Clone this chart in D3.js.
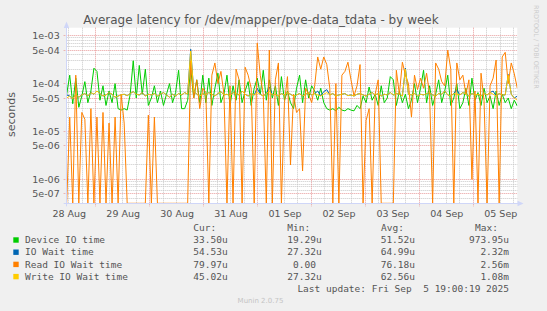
<!DOCTYPE html>
<html>
<head>
<meta charset="utf-8">
<script src="https://cdnjs.cloudflare.com/ajax/libs/d3/7.8.5/d3.min.js"></script>
<style>
body { margin: 0; background: #f0f0f0; }
svg { display: block; }
</style>
</head>
<body>
<script>
var seriesNames  = ["Device IO time", "IO Wait time", "Read IO Wait time", "Write IO Wait time"];
var seriesColors = ["#00cc00", "#0066b3", "#ff8000", "#ffcc00"];

// values in microseconds, one sample per ~80 minutes, 28 Aug 11:05 onward
var deviceIO = [60, 150, 38, 130, 32, 55, 110, 40, 70, 210,
  180, 45, 90, 35, 70, 40, 100, 30, 28, 30, 28, 60, 300, 50, 240, 60, 200, 35,
  50, 90, 40, 70, 35, 60, 100, 40, 65, 190, 30, 30, 45, 210, 50, 120, 40, 150,
  40, 130, 35, 80, 165, 40, 60, 150, 35, 90, 45, 120, 40, 70, 110, 35, 80, 130,
  60, 190, 45, 120, 50, 90, 35, 140, 45, 70, 40, 30, 80, 150, 40, 120, 50, 90,
  70, 45, 80, 40, 30, 28, 30, 27, 32, 28, 27, 30, 28, 27, 35, 30, 55, 40,
  85, 45, 60, 35, 90, 40, 50, 140, 120, 35, 70, 40, 60, 30, 45, 100, 40, 80,
  190, 40, 90, 35, 60, 120, 40, 70, 150, 35, 50, 100, 30, 40, 80, 35, 130, 45,
  65, 35, 80, 40, 55, 30, 70, 35, 60, 40, 50, 30, 45, 34];

var ioWait = [58, 55, 48, 60, 52, 58, 62, 55, 65, 60,
  70, 62, 55, 58, 65, 60, 52, 55, 58, 60, 56, 62, 68, 60, 58, 65, 55, 60,
  58, 62, 55, 60, 65, 58, 52, 60, 55, 62, 58, 65, 60, 520, 70, 60, 55, 62,
  58, 65, 60, 55, 62, 68, 58, 60, 55, 65, 62, 58, 70, 60, 55, 62, 58, 80,
  60, 55, 62, 85, 58, 60, 55, 62, 58, 65, 60, 55, 58, 62, 55, 60, 65, 58,
  62, 70, 55, 68, 75, 58, 62, 55, 58, 60, 62, 56, 58, 55, 60, 62, 58, 55,
  60, 65, 58, 62, 55, 60, 58, 65, 58, 62, 60, 55, 210, 60, 58, 62, 55, 60,
  58, 62, 65, 58, 55, 62, 60, 70, 58, 55, 62, 75, 58, 65, 60, 55, 62, 58,
  60, 55, 62, 58, 65, 70, 55, 62, 58, 58, 155, 60, 50, 55];

var readWait = [0, 20, 0, 150, 0, 25, 18, 0, 30, 0,
  20, 0, 25, 0, 15, 0, 20, 0, 60, 15, 0, 0, 0, 0, 0, 0, 0, 22,
  0, 20, 0, 0, 0, 0, 0, 0, 0, 0, 0, 0, 0, 300, 50, 120, 30, 80,
  65, 0, 150, 270, 100, 180, 60, 0, 90, 0, 200, 120, 0, 220, 150, 80, 0, 700,
  150, 60, 0, 500, 0, 120, 270, 0, 40, 140, 2, 60, 25, 30, 1.5, 80, 60, 40,
  90, 360, 200, 360, 250, 80, 0, 100, 0, 150, 180, 280, 120, 55, 90, 250, 0, 17,
  30, 0, 60, 120, 0, 0, 0, 0, 0, 190, 60, 280, 150, 100, 20, 150, 75, 130,
  80, 165, 60, 0, 270, 200, 110, 90, 500, 200, 0, 270, 120, 150, 60, 120, 1, 70,
  0, 165, 45, 0, 90, 130, 310, 0, 360, 450, 100, 270, 160, 80];

var writeWait = [50, 55, 48, 60, 52, 58, 62, 55, 65, 60,
  70, 62, 55, 58, 65, 60, 52, 55, 58, 60, 56, 62, 68, 60, 58, 65, 55, 60,
  58, 62, 55, 60, 65, 58, 52, 60, 55, 62, 58, 65, 60, 480, 70, 60, 55, 62,
  58, 65, 60, 55, 62, 68, 58, 60, 55, 65, 62, 58, 70, 60, 55, 62, 58, 65,
  60, 55, 62, 70, 58, 60, 55, 62, 58, 65, 60, 55, 58, 62, 55, 60, 65, 58,
  62, 58, 55, 60, 65, 58, 62, 55, 58, 60, 62, 56, 58, 55, 60, 62, 58, 55,
  60, 65, 58, 62, 55, 60, 58, 65, 58, 62, 60, 55, 200, 60, 58, 62, 55, 60,
  58, 62, 65, 58, 55, 62, 60, 70, 58, 55, 62, 60, 58, 65, 60, 55, 62, 58,
  60, 55, 62, 58, 65, 60, 55, 62, 58, 58, 150, 60, 50, 45];

var curText = ["33.50u", "54.53u", "79.97u", "45.02u"];
var minText = ["19.29u", "27.32u", "0.00\u00a0", "27.32u"];
var avgText = ["51.52u", "64.99u", "76.18u", "62.56u"];
var maxText = ["973.95u", "2.32m", "2.56m", "1.08m"];
var yLabelValues = [1e-3, 5e-4, 1e-4, 5e-5, 1e-5, 5e-6, 1e-6, 5e-7];

var width  = 547;
var height = 311;
var plotLeft = 66.7, plotRight = 517.3, plotTop = 27.7, plotBottom = 203.3;
var font = "DejaVu Sans, sans-serif";
var mono = "DejaVu Sans Mono, monospace";
var textColor = "#555";

var svg = d3.select("body")
            .append("svg")
            .attr("width", width)
            .attr("height", height);

svg.append("rect").attr("width", width).attr("height", height).attr("fill", "#f0f0f0");

var startTime = new Date(2025, 7, 28, 11, 5);
var endTime   = new Date(2025, 8, 5, 19, 35);
var stepMs = 80.74 * 60000;

var x = d3.scaleTime().domain([startTime, endTime]).range([plotLeft, plotRight]);
var y = d3.scaleLog().domain([3.17e-7, 1.47e-3]).range([plotBottom, plotTop]);

svg.append("rect")
   .attr("x", plotLeft).attr("y", plotTop)
   .attr("width", plotRight - plotLeft).attr("height", plotBottom - plotTop)
   .attr("fill", "#ffffff");

function px(v) { return Math.floor(v) + 0.5; }
function isMajor(v) {
  var lead = Math.round(v / Math.pow(10, Math.floor(Math.log10(v) + 1e-9)));
  return lead === 1 || lead === 5;
}

var grid = svg.append("g").attr("stroke-width", 1).attr("stroke-dasharray", "1,1").attr("fill", "none");

// minor grid
d3.timeHour.every(6).range(startTime, endTime).forEach(function(t) {
  if (t.getHours() === 0) return;
  grid.append("line").attr("x1", px(x(t))).attr("x2", px(x(t)))
      .attr("y1", plotTop).attr("y2", plotBottom).attr("stroke", "#c8c8c8");
});
y.ticks().forEach(function(v) {
  if (isMajor(v)) return;
  grid.append("line").attr("x1", plotLeft).attr("x2", plotRight)
      .attr("y1", px(y(v))).attr("y2", px(y(v))).attr("stroke", "#c8c8c8");
});

// major grid
d3.timeDay.range(startTime, endTime).forEach(function(t) {
  grid.append("line").attr("x1", px(x(t))).attr("x2", px(x(t)))
      .attr("y1", plotTop).attr("y2", plotBottom + 3).attr("stroke", "#e89a9a");
});
y.ticks().filter(isMajor).forEach(function(v) {
  grid.append("line").attr("x1", plotLeft - 3).attr("x2", plotRight)
      .attr("y1", px(y(v))).attr("y2", px(y(v))).attr("stroke", "#e89a9a");
});

// lines
svg.append("clipPath").attr("id", "plot")
   .append("rect").attr("x", plotLeft).attr("y", plotTop - 1)
   .attr("width", plotRight - plotLeft).attr("height", plotBottom - plotTop + 1);

var line = d3.line()
  .x(function(d, i) { return x(new Date(startTime.getTime() + i * stepMs)); })
  .y(function(d) { return d > 0 ? Math.min(y(d * 1e-6), plotBottom) : plotBottom; });

[deviceIO, ioWait, readWait, writeWait].forEach(function(s, k) {
  svg.append("path")
     .attr("clip-path", "url(#plot)")
     .attr("d", line(s))
     .attr("fill", "none")
     .attr("stroke", seriesColors[k])
     .attr("stroke-width", 1);
});

// axis lines and arrows
svg.append("line").attr("x1", px(plotLeft)).attr("x2", px(plotLeft)).attr("y1", plotBottom + 3).attr("y2", 24)
   .attr("stroke", "#cfd6f8");
svg.append("line").attr("x1", plotLeft - 3).attr("x2", 519).attr("y1", px(plotBottom)).attr("y2", px(plotBottom))
   .attr("stroke", "#cfd6f8");
svg.append("path").attr("d", "M63.8,28 L69.2,28 L66.5,21.5 Z").attr("fill", "#cfd6f8");
svg.append("path").attr("d", "M517.5,200.8 L517.5,206.2 L523.5,203.5 Z").attr("fill", "#cfd6f8");

// tick labels
var yFmt = function(v) { return v.toExponential(0).replace(/e([+-])(\d)$/, "e$10$2"); };
var yAxis = svg.append("g")
  .attr("transform", "translate(" + plotLeft + ",0)")
  .call(d3.axisLeft(y).tickValues(yLabelValues).tickFormat(yFmt).tickSize(0).tickPadding(7));
yAxis.select(".domain").remove();
yAxis.selectAll("text").attr("font-family", font).attr("font-size", "9.5px").attr("fill", textColor);

var noons = d3.timeDay.range(d3.timeDay.floor(startTime), endTime).map(function(d) { return d3.timeHour.offset(d, 12); });
var xAxis = svg.append("g")
  .attr("transform", "translate(0," + plotBottom + ")")
  .call(d3.axisBottom(x).tickValues(noons).tickFormat(d3.timeFormat("%d %b")).tickSize(0).tickPadding(6.5));
xAxis.select(".domain").remove();
xAxis.selectAll("text").attr("font-family", font).attr("font-size", "9.5px").attr("fill", textColor);

// titles
svg.append("text")
   .attr("x", 261).attr("y", 24.3)
   .attr("text-anchor", "middle")
   .attr("font-family", font).attr("font-size", "12px").attr("fill", textColor)
   .text("Average latency for /dev/mapper/pve-data_tdata - by week");

svg.append("text")
   .attr("transform", "translate(15,114.5) rotate(-90)")
   .attr("text-anchor", "middle")
   .attr("font-family", font).attr("font-size", "11px").attr("fill", textColor)
   .text("seconds");

svg.append("text")
   .attr("transform", "translate(534,5) rotate(90)")
   .attr("font-family", font).attr("font-size", "6.5px").attr("fill", "#cccccc")
   .text("RRDTOOL / TOBI OETIKER");

// legend
var legend = svg.append("g").attr("font-family", mono).attr("font-size", "9.5px").attr("fill", textColor);

var heads = [["Cur:", 193.3], ["Min:", 287.3], ["Avg:", 381], ["Max:", 475]];
heads.forEach(function(h) {
  legend.append("text").attr("x", h[1]).attr("y", 231).text(h[0]);
});

var cols = [[curText, 227.7], [minText, 321.7], [avgText, 415], [maxText, 509]];
seriesNames.forEach(function(name, k) {
  var base = 243.2 + k * 12.2;
  legend.append("rect").attr("x", 13.3).attr("y", base - 5.9).attr("width", 5.4).attr("height", 5.4)
        .attr("fill", seriesColors[k]);
  legend.append("text").attr("x", 25).attr("y", base).text(name);
  cols.forEach(function(c) {
    legend.append("text").attr("x", c[1]).attr("y", base).attr("text-anchor", "end").text(c[0][k]);
  });
});

legend.append("text").attr("x", 509).attr("y", 292).attr("text-anchor", "end")
      .text("Last update: Fri Sep \u00a05 19:00:19 2025");

svg.append("text")
   .attr("x", 260.5).attr("y", 302.5).attr("text-anchor", "middle")
   .attr("font-family", font).attr("font-size", "7px").attr("fill", "#c4c4c4")
   .text("Munin 2.0.75");
</script>
</body>
</html>
